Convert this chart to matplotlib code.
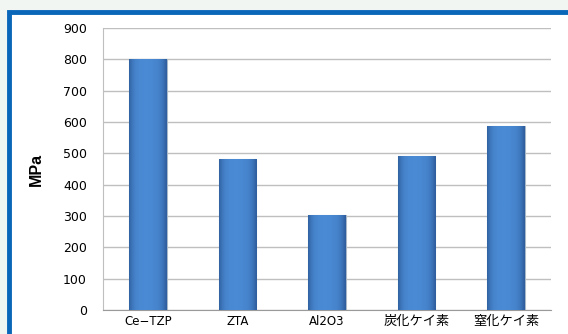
import matplotlib
matplotlib.use('Agg')
import matplotlib.pyplot as plt
from matplotlib.patches import Rectangle
import numpy as np

plt.rcParams['font.family'] = ['DejaVu Sans', 'Noto Sans CJK JP']

# data
categories = ['Ce\u2212TZP', 'ZTA', 'Al2O3', '炭化ケイ素', '窒化ケイ素']
values = [800, 483, 303, 490, 588]
y_ticks = [0, 100, 200, 300, 400, 500, 600, 700, 800, 900]

fig = plt.figure(figsize=(5.68, 3.34), dpi=100)
fig.patch.set_facecolor('#f2f6f2')

# white panel with blue frame (runs off the right and bottom edges)
frame = Rectangle((9 / 568, -0.1), 1.2, 1 - 12.5 / 334 + 0.1,
                  transform=fig.transFigure, facecolor='white',
                  edgecolor='#0a66b8', linewidth=3.5, zorder=-5)
fig.patches.append(frame)

ax = fig.add_axes([103 / 568, 1 - 310 / 334, (551 - 103) / 568, (310 - 28) / 334])
ax.set_zorder(2)
ax.set_facecolor('white')

x = np.arange(len(categories))
bars = ax.bar(x, values, width=0.42, color='#4a8ad4', edgecolor='#a8b8c8',
              linewidth=0.8, zorder=2)

# horizontal shading on each bar: flat middle, darker towards the edges
grad = np.linspace(-1, 1, 64)
shade = 1 - 0.6 * np.abs(grad) ** 4
shade[grad > 0] -= 0.12 * grad[grad > 0]
cmap = matplotlib.colors.LinearSegmentedColormap.from_list('b', ['#2f5f9e', '#4a8ad4'])
for b in bars:
    bx, by = b.get_x(), b.get_y()
    im = ax.imshow(shade[np.newaxis, :], extent=(bx, bx + b.get_width(), by, by + b.get_height()),
                   aspect='auto', cmap=cmap, vmin=0.35, vmax=1, zorder=3, origin='lower')
    im.set_clip_path(b)

ax.set_xlim(-0.5, len(categories) - 0.5)
ax.set_ylim(0, 900)
ax.set_yticks(y_ticks)
ax.set_xticks(x)
ax.set_xticklabels(categories, fontsize=8.5)
for lbl in ax.get_xticklabels():
    if any(ord(c) > 0x3000 for c in lbl.get_text()):
        lbl.set_fontsize(9.5)
ax.tick_params(axis='y', labelsize=9, length=0, pad=11.5)
ax.tick_params(axis='x', length=0, pad=3.5)

ax.yaxis.grid(True, color='#bfbfbf', linewidth=1.0, zorder=1)
ax.set_axisbelow(True)
for s in ['top', 'right']:
    ax.spines[s].set_visible(False)
ax.spines['left'].set_color('#bfbfbf')
ax.spines['bottom'].set_color('#9a9a9a')

ax.set_ylabel('MPa', fontsize=11.5, fontweight='bold', labelpad=14,
              family=['Liberation Sans', 'DejaVu Sans'])

fig.savefig('out.png', dpi=100, facecolor=fig.get_facecolor())
